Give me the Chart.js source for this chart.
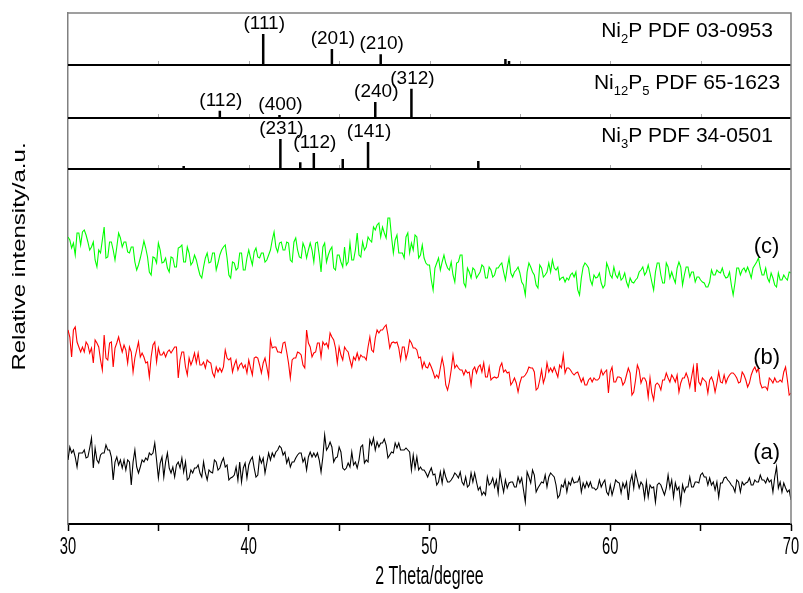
<!DOCTYPE html>
<html>
<head>
<meta charset="utf-8">
<script src="https://cdn.jsdelivr.net/npm/chart.js@4.4.1/dist/chart.umd.min.js"></script>
<style>
  html, body { margin: 0; padding: 0; background: #fff; }
  canvas { display: block; }
</style>
</head>
<body>
<canvas id="chart" width="803" height="593"></canvas>
<script>
// 2-theta sampling: values read at every 0.2 deg, plus one reading between each pair
const TWO_THETA = Array.from({ length: 201 }, (_, i) => +(30 + i * 0.2).toFixed(1));
const TWO_THETA_MID = TWO_THETA.slice(0, -1).map(t => +(t + 0.1).toFixed(1));

const CURVE_A = [
  64, 71, 67, 71, 71, 66, 76, 56, 64, 69, 71, 74, 67, 62, 59, 56, 54, 62, 62, 57,
  57, 62, 64, 69, 81, 46, 67, 62, 56, 57, 59, 56, 52, 44, 54, 56, 59, 47, 51, 54,
  51, 62, 56, 66, 59, 46, 49, 44, 42, 61, 59, 67, 47, 67, 66, 61, 64, 67, 74, 76,
  72, 66, 62, 66, 71, 62, 54, 72, 71, 71, 52, 89, 77, 77, 66, 77, 56, 56, 57, 59,
  56, 77, 61, 62, 79, 74, 77, 81, 79, 69, 71, 76, 74, 74, 74, 54, 56, 54, 54, 51,
  52, 49, 39, 52, 54, 42, 44, 51, 46, 42, 47, 39, 42, 42, 37, 32, 47, 41, 37, 31,
  41, 44, 41, 42, 37, 41, 34, 52, 41, 49, 36, 42, 49, 47, 49, 39, 29, 37, 32, 39,
  41, 42, 32, 36, 37, 36, 34, 44, 41, 32, 39, 36, 42, 31, 36, 24, 49, 52, 36, 39,
  42, 39, 37, 39, 39, 29, 49, 44, 41, 37, 39, 37, 47, 37, 42, 49, 47, 39, 39, 34,
  27, 41, 47, 42, 37, 44, 32, 39, 42, 39, 44, 42, 44, 41, 42, 32, 57, 42, 41, 32,
  24
];
const CURVE_A_MID = [
  77, 74, 57, 71, 74, 67, 86, 76, 61, 71, 79, 74, 44, 67, 64, 64, 64, 39, 74, 51,
  64, 66, 71, 71, 64, 61, 47, 71, 51, 47, 62, 66, 62, 46, 51, 56, 51, 62, 44, 52,
  64, 54, 62, 57, 44, 47, 57, 62, 56, 46, 64, 56, 49, 61, 51, 71, 71, 72, 78, 69,
  61, 57, 62, 69, 71, 66, 67, 67, 67, 64, 67, 74, 82, 62, 67, 72, 54, 61, 72, 62,
  64, 79, 64, 84, 86, 82, 81, 85, 66, 72, 81, 81, 74, 76, 72, 69, 67, 57, 54, 47,
  56, 50, 42, 41, 47, 42, 47, 49, 52, 39, 37, 51, 51, 34, 29, 29, 39, 46, 44, 52,
  32, 36, 42, 37, 47, 46, 22, 47, 54, 32, 39, 41, 37, 51, 47, 26, 39, 44, 42, 46,
  42, 47, 41, 42, 42, 36, 36, 37, 44, 29, 29, 44, 41, 41, 42, 42, 36, 44, 42, 26,
  27, 36, 22, 41, 34, 36, 36, 27, 34, 21, 32, 37, 37, 42, 41, 51, 47, 46, 42, 42,
  41, 46, 44, 39, 32, 42, 42, 41, 46, 39, 42, 49, 44, 46, 44, 47, 36, 32, 36, 34
];
const CURVE_B = [
  194, 167, 197, 177, 177, 182, 171, 161, 181, 164, 189, 164, 182, 176, 187, 172, 174, 177, 152, 174,
  167, 167, 162, 167, 182, 176, 169, 167, 174, 174, 177, 164, 172, 149, 159, 171, 171, 159, 156, 162,
  151, 157, 156, 157, 166, 166, 159, 154, 161, 159, 164, 149, 167, 159, 161, 157, 184, 177, 172, 171,
  182, 161, 164, 166, 171, 159, 194, 177, 171, 181, 167, 179, 176, 187, 176, 177, 164, 174, 164, 167,
  171, 169, 167, 177, 174, 186, 191, 194, 199, 176, 182, 182, 164, 177, 172, 181, 176, 166, 156, 157,
  161, 152, 149, 156, 157, 134, 154, 156, 156, 154, 154, 152, 154, 151, 159, 161, 147, 144, 147, 147,
  161, 154, 152, 142, 141, 141, 147, 152, 156, 152, 136, 154, 147, 152, 152, 152, 159, 169, 156, 154,
  149, 152, 142, 139, 144, 142, 144, 146, 149, 154, 152, 142, 147, 146, 142, 156, 129, 144, 154, 146,
  142, 146, 124, 141, 134, 144, 146, 149, 142, 132, 146, 151, 137, 157, 161, 139, 144, 131, 147, 132,
  152, 141, 141, 149, 151, 146, 142, 149, 137, 149, 157, 156, 136, 137, 146, 141, 142, 144, 152, 144,
  131
];
const CURVE_B_MID = [
  187, 194, 182, 172, 172, 179, 176, 184, 177, 154, 166, 181, 157, 181, 179, 179, 161, 172, 166, 182,
  171, 161, 147, 179, 162, 169, 172, 172, 171, 177, 146, 172, 157, 166, 164, 161, 159, 162, 164, 161,
  147, 152, 152, 174, 164, 152, 164, 159, 156, 151, 156, 166, 166, 151, 166, 147, 176, 177, 172, 181,
  172, 146, 166, 172, 169, 156, 181, 167, 172, 181, 182, 181, 191, 184, 161, 169, 177, 172, 157, 164,
  164, 167, 164, 187, 172, 194, 194, 197, 189, 181, 181, 176, 177, 165, 184, 176, 174, 167, 162, 156,
  157, 146, 146, 166, 139, 142, 169, 159, 154, 149, 151, 139, 157, 157, 152, 147, 157, 146, 146, 157,
  152, 151, 139, 146, 132, 147, 149, 157, 156, 134, 144, 141, 161, 156, 157, 147, 156, 151, 156, 151,
  151, 147, 146, 139, 146, 146, 144, 154, 152, 131, 157, 142, 147, 139, 149, 151, 132, 159, 141, 146,
  127, 131, 139, 139, 144, 151, 142, 146, 149, 141, 146, 146, 147, 132, 142, 146, 142, 144, 142, 141,
  142, 149, 146, 151, 149, 141, 152, 144, 141, 154, 152, 141, 137, 134, 144, 146, 142, 142, 157, 129
];
const CURVE_C = [
  287, 276, 269, 291, 292, 289, 274, 282, 257, 271, 297, 267, 282, 264, 291, 277, 282, 271, 277, 254,
  266, 283, 267, 249, 266, 281, 261, 266, 252, 266, 257, 277, 262, 277, 259, 269, 256, 246, 266, 261,
  271, 254, 269, 277, 266, 246, 261, 256, 271, 254, 274, 259, 276, 266, 271, 264, 274, 292, 272, 282,
  274, 281, 262, 286, 267, 281, 266, 281, 262, 282, 252, 281, 269, 277, 254, 269, 257, 259, 281, 264,
  291, 267, 274, 287, 282, 294, 301, 297, 286, 306, 271, 289, 271, 266, 291, 281, 289, 266, 279, 261,
  259, 234, 261, 254, 269, 256, 262, 242, 262, 269, 237, 252, 256, 246, 252, 257, 246, 254, 249, 256,
  261, 244, 266, 247, 254, 251, 239, 252, 257, 249, 236, 256, 249, 261, 264, 254, 244, 247, 246, 249,
  247, 234, 246, 261, 256, 239, 246, 251, 236, 261, 249, 257, 246, 244, 251, 237, 242, 244, 252, 257,
  252, 251, 234, 261, 249, 241, 257, 252, 241, 262, 239, 257, 247, 252, 247, 244, 241, 237, 254, 249,
  252, 256, 246, 252, 229, 256, 249, 256, 257, 246, 259, 266, 249, 256, 242, 246, 237, 244, 249, 244,
  251
];
const CURVE_C_MID = [
  284, 281, 291, 279, 294, 282, 277, 264, 274, 284, 266, 282, 274, 277, 286, 282, 272, 277, 262, 259,
  274, 276, 252, 267, 261, 274, 262, 256, 267, 257, 276, 279, 262, 271, 262, 264, 249, 257, 271, 262,
  271, 261, 274, 279, 249, 262, 254, 271, 254, 266, 266, 272, 267, 271, 262, 269, 284, 277, 281, 274,
  282, 264, 282, 274, 266, 276, 274, 274, 281, 269, 277, 262, 274, 256, 269, 262, 277, 262, 264, 274,
  269, 282, 277, 284, 297, 299, 287, 291, 306, 287, 284, 271, 271, 287, 271, 274, 287, 269, 266, 259,
  244, 256, 266, 262, 261, 254, 249, 261, 269, 241, 256, 246, 254, 249, 259, 246, 257, 247, 256, 259,
  252, 256, 251, 252, 257, 242, 229, 261, 252, 239, 259, 247, 252, 252, 256, 257, 246, 242, 244, 251,
  252, 229, 257, 259, 244, 249, 247, 241, 239, 256, 246, 249, 252, 246, 242, 246, 241, 246, 254, 249,
  259, 242, 252, 261, 241, 261, 246, 246, 256, 257, 249, 257, 252, 242, 247, 242, 237, 242, 249, 254,
  251, 249, 247, 239, 241, 256, 254, 252, 252, 256, 262, 256, 249, 246, 251, 239, 251, 244, 246, 252
];
const CURVE_TAGS = ['(a)', '(b)', '(c)'];
const TAG_LEVEL = [71, 166, 277];   // a.u. where each tag sits

// reference patterns: peak position (2theta), relative intensity (%), hkl
const NI2P_POS = [40.8, 44.6, 47.3, 54.2, 54.4];
const NI2P_INT = [100, 52, 35, 19, 13];
const NI2P_HKL = ['(111)', '(201)', '(210)', '', ''];

const NI12P5_POS = [38.4, 41.7, 47.0, 49.0];
const NI12P5_INT = [23, 10, 52, 94];
const NI12P5_HKL = ['(112)', '(400)', '(240)', '(312)'];

const NI3P_POS = [36.4, 41.75, 42.85, 43.6, 45.2, 46.6, 52.7];
const NI3P_INT = [10, 97, 22, 52, 32, 87, 26];
const NI3P_HKL = ['', '(231)', '', '(112)', '', '(141)', ''];

// card titles, split in [text, isSubscript] runs
const NI2P_TITLE = [['Ni', 0], ['2', 1], ['P PDF 03-0953', 0]];
const NI12P5_TITLE = [['Ni', 0], ['12', 1], ['P', 0], ['5', 1], [' PDF 65-1623', 0]];
const NI3P_TITLE = [['Ni', 0], ['3', 1], ['P PDF 34-0501', 0]];

const X_TICK_LABELS = [30, 40, 50, 60, 70];
const X_TITLE = '2 Theta/degree';
const Y_TITLE = 'Relative intensity/a.u.';

// stacking layout (a.u.)
const Y_MAX = 511;
const PANELS = [
  { base: 459, top: 511, pos: NI2P_POS, int: NI2P_INT, hkl: NI2P_HKL, title: NI2P_TITLE },
  { base: 406, top: 459, pos: NI12P5_POS, int: NI12P5_INT, hkl: NI12P5_HKL, title: NI12P5_TITLE },
  { base: 355, top: 406, pos: NI3P_POS, int: NI3P_INT, hkl: NI3P_HKL, title: NI3P_TITLE },
];
const STICK_FULL = 31;   // a.u. for a 100 % line
const TAG_X = 68.65;
const CARD_TITLE_X = 64.25;

const ARIAL = "'Liberation Sans', Arial, sans-serif";

function merged(grid, mids) {
  const pts = [];
  grid.forEach((y, i) => {
    pts.push({ x: TWO_THETA[i], y });
    if (i < mids.length) pts.push({ x: TWO_THETA_MID[i], y: mids[i] });
  });
  return pts;
}

function stickPoints(p) {
  const pts = [];
  p.pos.forEach((x, i) => {
    pts.push({ x, y: p.base }, { x, y: p.base + p.int[i] * STICK_FULL / 100 }, { x, y: null });
  });
  return pts;
}

const curveDs = (data, color) => ({
  data, borderColor: color, borderWidth: 1.1, pointRadius: 0, tension: 0,
});

const datasets = [
  curveDs(merged(CURVE_A, CURVE_A_MID), '#000000'),
  curveDs(merged(CURVE_B, CURVE_B_MID), '#ff0000'),
  curveDs(merged(CURVE_C, CURVE_C_MID), '#00ff00'),
  ...PANELS.map(p => ({
    data: stickPoints(p),
    borderColor: '#000', borderWidth: 2.5, pointRadius: 0, spanGaps: false, borderCapStyle: 'butt',
  })),
  ...PANELS.map(p => ({
    data: [{ x: 30, y: p.base }, { x: 70, y: p.base }],
    borderColor: '#000', borderWidth: 2, pointRadius: 0,
  })),
];

// condensed text (the original figure uses a narrow face for the axes)
function narrowText(ctx, text, x, y, size, sx, vertical) {
  ctx.save();
  ctx.translate(x, y);
  ctx.scale(sx, 1);
  if (vertical) ctx.rotate(-Math.PI / 2);
  ctx.font = size + 'px ' + ARIAL;
  ctx.textAlign = 'center';
  ctx.textBaseline = 'middle';
  ctx.fillText(text, 0, 0);
  ctx.restore();
}

const decor = {
  id: 'decor',
  afterDraw(chart) {
    const { ctx, chartArea: a, scales: { x, y } } = chart;
    ctx.save();
    // frame top/right
    ctx.strokeStyle = '#808080';
    ctx.lineWidth = 1.5;
    ctx.beginPath();
    ctx.moveTo(a.left, a.top); ctx.lineTo(a.right, a.top); ctx.lineTo(a.right, a.bottom);
    ctx.stroke();

    // faint marks along the card baselines
    ctx.strokeStyle = '#aaa';
    ctx.lineWidth = 1;
    PANELS.forEach(p => {
      const py = y.getPixelForValue(p.base);
      for (let t = 35; t < 70; t += 5) {
        const px = Math.round(x.getPixelForValue(t)) + 0.5;
        ctx.beginPath(); ctx.moveTo(px, py - 1); ctx.lineTo(px, py - 4); ctx.stroke();
      }
    });

    ctx.fillStyle = '#000';
    ctx.textAlign = 'center';
    ctx.textBaseline = 'middle';
    ctx.font = '19px ' + ARIAL;
    PANELS.forEach(p => {
      p.pos.forEach((pos, i) => {
        if (!p.hkl[i]) return;
        const top = y.getPixelForValue(p.base + p.int[i] * STICK_FULL / 100);
        ctx.fillText(p.hkl[i], x.getPixelForValue(pos) + 1, top - 10);
      });
    });

    // card titles with subscripts
    PANELS.forEach(p => {
      const big = '21px ' + ARIAL, small = '13px ' + ARIAL;
      let w = 0;
      p.title.forEach(([t, s]) => { ctx.font = s ? small : big; w += ctx.measureText(t).width; });
      let cx = x.getPixelForValue(CARD_TITLE_X) - w / 2;
      const cy = y.getPixelForValue(p.top) + 18;
      ctx.textAlign = 'left';
      p.title.forEach(([t, s]) => {
        ctx.font = s ? small : big;
        ctx.fillText(t, cx, s ? cy + 8 : cy);
        cx += ctx.measureText(t).width;
      });
    });

    // curve tags
    ctx.textAlign = 'center';
    ctx.font = '22px ' + ARIAL;
    CURVE_TAGS.forEach((tag, i) => {
      ctx.fillText(tag, x.getPixelForValue(TAG_X), y.getPixelForValue(TAG_LEVEL[i]));
    });

    // axis labels
    X_TICK_LABELS.forEach(v => narrowText(ctx, String(v), x.getPixelForValue(v), a.bottom + 24, 23, 0.64));
    narrowText(ctx, X_TITLE, (a.left + a.right) / 2, a.bottom + 53, 25, 0.64);
    narrowText(ctx, Y_TITLE, 20, (a.top + a.bottom) / 2 - 12, 24, 0.8, true);
    ctx.restore();
  }
};

new Chart(document.getElementById('chart'), {
  type: 'line',
  data: { datasets },
  plugins: [decor],
  options: {
    responsive: false,
    animation: false,
    devicePixelRatio: 1,
    layout: { padding: { top: 13, right: 12, left: 0, bottom: 0 } },
    plugins: { legend: { display: false }, tooltip: { enabled: false } },
    scales: {
      x: {
        type: 'linear', min: 30, max: 70,
        afterFit: s => { s.height = 69; },
        ticks: { stepSize: 5, autoSkip: false, maxRotation: 0, callback: () => '' },
        grid: { drawOnChartArea: false, tickLength: 7, tickColor: '#000', tickWidth: 1.5 },
        border: { color: '#000', width: 2 },
      },
      y: {
        min: 0, max: Y_MAX,
        afterFit: s => { s.width = 68; },
        ticks: { display: false },
        grid: { display: false, drawTicks: false },
        border: { color: '#808080', width: 1.5 },
      },
    },
  },
});
</script>
</body>
</html>
